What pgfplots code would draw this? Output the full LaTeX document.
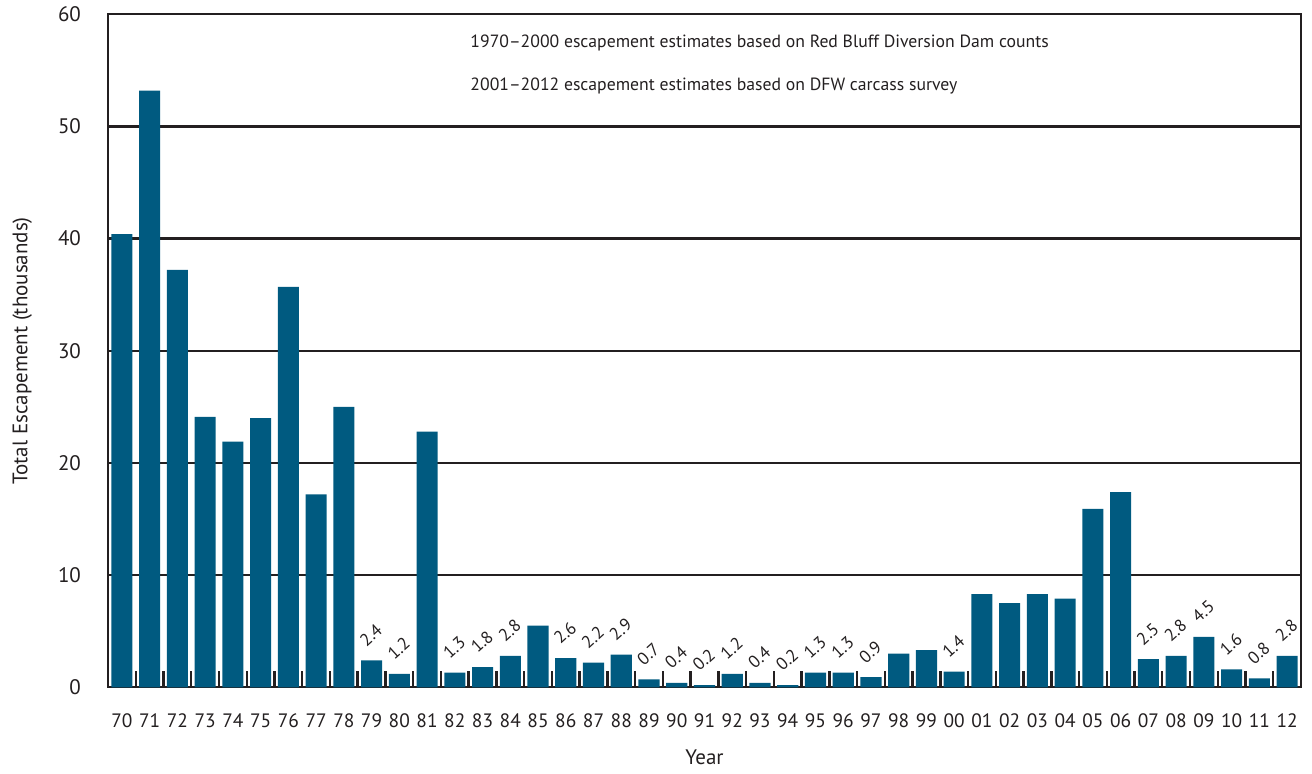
\documentclass[border=0pt]{standalone}
\usepackage{fontspec}
\setmainfont{PT Sans}
\usepackage{pgfplots}
\usepackage{pgfplotstable}
\pgfplotsset{compat=1.18}

\definecolor{barblue}{RGB}{0,90,128}
\definecolor{ink}{RGB}{35,31,32}

% x = 0 is 1970, x = 42 is 2012; heights in thousands
\pgfplotstableread{
x y
0 40.4
1 53.2
2 37.2
3 24.1
4 21.9
5 24.0
6 35.7
7 17.2
8 25.0
11 22.8
15 5.5
28 3.0
29 3.3
31 8.3
32 7.5
33 8.3
34 7.9
35 15.9
36 17.4
}\plainbars

% bars that carry a value label
\pgfplotstableread{
x y
9 2.4
10 1.2
12 1.3
13 1.8
14 2.8
16 2.6
17 2.2
18 2.9
19 0.7
20 0.4
21 0.2
22 1.2
23 0.4
24 0.2
25 1.3
26 1.3
27 0.9
30 1.4
37 2.5
38 2.8
39 4.5
40 1.6
41 0.8
42 2.8
}\labeledbars

\begin{document}
\begin{tikzpicture}
\begin{axis}[
    scale only axis,
    width=596.5pt, height=336.5pt,
    xmin=-0.5, xmax=42.5,
    ymin=0, ymax=60,
    ybar, bar width=0.76, bar shift=0pt,
    xtick={-0.5,0.5,...,42.5},
    x tick label as interval,
    xticklabels={70,71,72,73,74,75,76,77,78,79,80,81,82,83,84,85,86,87,88,89,90,91,92,93,94,95,96,97,98,99,00,01,02,03,04,05,06,07,08,09,10,11,12},
    xtick pos=bottom,
    tick align=inside,
    major tick length=8pt,
    x tick style={ink, line width=1.2pt},
    ytick={0,10,...,60},
    y tick style={draw=none},
    ymajorgrids,
    grid style={ink, line width=1.2pt},
    axis line style={ink, line width=1.2pt},
    /pgf/number format/assume math mode=true,
    xticklabel style={font=\fontsize{9.7}{11}\selectfont, text=ink, anchor=base, yshift=-20pt},
    yticklabel style={font=\fontsize{10.5}{12}\selectfont, text=ink, anchor=east, xshift=-10pt},
    xlabel={Year},
    ylabel={Total Escapement (thousands)},
    every axis x label/.style={at={(axis description cs:0.5,-0.104)}, anchor=center, font=\fontsize{10.5}{12}\selectfont, text=ink},
    every axis y label/.style={at={(axis description cs:-0.072,0.5)}, rotate=90, anchor=center, font=\fontsize{10.5}{12}\selectfont, text=ink},
]
\addplot[fill=barblue, draw=none] table[x=x, y=y] {\plainbars};
\addplot[fill=barblue, draw=none,
    nodes near coords={\pgfmathprintnumber[fixed, fixed zerofill, precision=1]{\pgfplotspointmeta}},
    every node near coord/.append style={xshift=-2.5pt, yshift=5.5pt, rotate=42, anchor=south west, inner sep=0.5pt, font=\fontsize{8.7}{10}\selectfont, text=ink},
] table[x=x, y=y] {\labeledbars};
\node[anchor=west, inner sep=0pt, font=\fontsize{8.85}{10}\selectfont, text=ink] at (axis cs:12.55,57.4) {1970--2000 escapement estimates based on Red Bluff Diversion Dam counts};
\node[anchor=west, inner sep=0pt, font=\fontsize{8.85}{10}\selectfont, text=ink] at (axis cs:12.55,53.6) {2001--2012 escapement estimates based on DFW carcass survey};
\coordinate (bl) at (rel axis cs:0,0);
\end{axis}
\path (bl) ++(-54pt,-43pt) rectangle ++(656pt,386.5pt);
\end{tikzpicture}
\end{document}
